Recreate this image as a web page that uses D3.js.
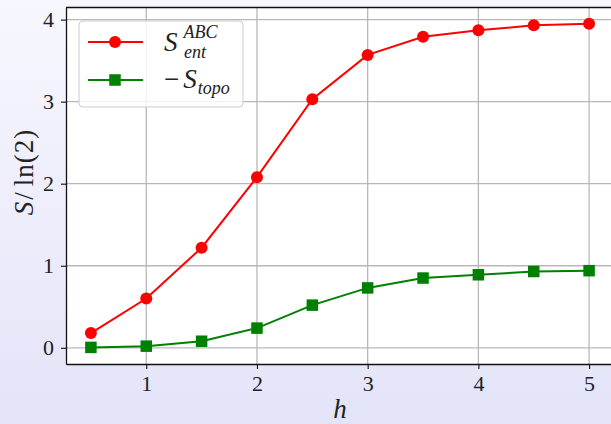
<!DOCTYPE html>
<html>
<head>
<meta charset="utf-8">
<script src="https://cdn.jsdelivr.net/npm/d3@7"></script>
<style>
  html, body { margin: 0; padding: 0; }
  body { width: 611px; height: 424px; overflow: hidden; }
  svg { display: block; }
  text { font-family: "Liberation Serif", "DejaVu Serif", serif; fill: #222; }
</style>
</head>
<body>
<svg id="chart" width="611" height="424"></svg>
<script>
// Field strength h
const hValues = [0.5, 1, 1.5, 2, 2.5, 3, 3.5, 4, 4.5, 5];
// Entanglement entropy S_ent^ABC / ln(2)
const sEnt = [0.18, 0.60, 1.22, 2.08, 3.03, 3.57, 3.79, 3.87, 3.93, 3.95];
// Negative topological entropy -S_topo / ln(2)
const sTopo = [0.005, 0.02, 0.08, 0.24, 0.52, 0.73, 0.85, 0.89, 0.93, 0.94];
const xTicks = [1, 2, 3, 4, 5];
const yTicks = [0, 1, 2, 3, 4];

const W = 611, H = 424;
const plot = { left: 66, top: 7.5, right: 614, bottom: 364 };
const serif = '"Liberation Serif", "DejaVu Serif", serif';

const svg = d3.select("#chart");
const defs = svg.append("defs");

// figure background: pale lavender, lighter towards the top
const grad = defs.append("linearGradient")
  .attr("id", "bg").attr("x1", 0).attr("y1", 0).attr("x2", 0).attr("y2", 1);
grad.append("stop").attr("offset", "0%").attr("stop-color", "#f7f7fe");
grad.append("stop").attr("offset", "100%").attr("stop-color", "#e4e4f9");
svg.append("rect").attr("width", W).attr("height", H).attr("fill", "url(#bg)");

// scales with 5% padding on both axes
const pad = (lo, hi) => { const s = hi - lo; return [lo - 0.05 * s, hi + 0.05 * s]; };
const xExt = d3.extent(hValues);
const yExt = d3.extent(sEnt.concat(sTopo).concat([0]));
const x = d3.scaleLinear().domain(pad(xExt[0], xExt[1])).range([plot.left, plot.right]);
const y = d3.scaleLinear().domain(pad(yExt[0], yExt[1])).range([plot.bottom, plot.top]);

// plot area
svg.append("rect")
  .attr("x", plot.left).attr("y", plot.top)
  .attr("width", plot.right - plot.left).attr("height", plot.bottom - plot.top)
  .attr("fill", "#ffffff");

defs.append("clipPath").attr("id", "clip")
  .append("rect")
  .attr("x", plot.left).attr("y", plot.top)
  .attr("width", plot.right - plot.left).attr("height", plot.bottom - plot.top);

// grid
const grid = svg.append("g").attr("clip-path", "url(#clip)");
grid.selectAll(".gx").data(xTicks).join("line")
  .attr("x1", d => x(d)).attr("x2", d => x(d))
  .attr("y1", plot.top).attr("y2", plot.bottom)
  .attr("stroke", "#b8b8b8").attr("stroke-width", 1.3);
grid.selectAll(".gy").data(yTicks).join("line")
  .attr("x1", plot.left).attr("x2", plot.right)
  .attr("y1", d => y(d)).attr("y2", d => y(d))
  .attr("stroke", "#b8b8b8").attr("stroke-width", 1.3);

// series
const series = [
  { values: sEnt, color: "#ff0000", marker: "circle" },
  { values: sTopo, color: "#008000", marker: "square" }
];
const line = d3.line().x(d => x(d[0])).y(d => y(d[1]));
const gData = svg.append("g").attr("clip-path", "url(#clip)");
series.forEach(s => {
  const pts = hValues.map((h, i) => [h, s.values[i]]);
  gData.append("path").datum(pts)
    .attr("d", line).attr("fill", "none")
    .attr("stroke", s.color).attr("stroke-width", 2);
  if (s.marker === "circle") {
    gData.selectAll(null).data(pts).join("circle")
      .attr("cx", d => x(d[0])).attr("cy", d => y(d[1])).attr("r", 6)
      .attr("fill", s.color);
  } else {
    gData.selectAll(null).data(pts).join("rect")
      .attr("x", d => x(d[0]) - 5.75).attr("y", d => y(d[1]) - 5.75)
      .attr("width", 11.5).attr("height", 11.5)
      .attr("fill", s.color);
  }
});

// axes
const xAxis = d3.axisBottom(x).tickValues(xTicks).tickSize(5).tickSizeOuter(0)
  .tickPadding(6).tickFormat(d3.format("d"));
const yAxis = d3.axisLeft(y).tickValues(yTicks).tickSize(5).tickSizeOuter(0)
  .tickPadding(7).tickFormat(d3.format("d"));

const gx = svg.append("g").attr("transform", `translate(0,${plot.bottom})`).call(xAxis);
const gy = svg.append("g").attr("transform", `translate(${plot.left},0)`).call(yAxis);
[gx, gy].forEach(g => {
  g.attr("font-family", null);
  g.select(".domain").attr("stroke", "#111").attr("stroke-width", 1.3);
  g.selectAll(".tick line").attr("stroke", "#111").attr("stroke-width", 1.1);
  g.selectAll(".tick text")
    .style("font-family", serif)
    .style("font-size", "22px").attr("fill", "#222");
});
// top spine
svg.append("line")
  .attr("x1", plot.left).attr("x2", plot.right)
  .attr("y1", plot.top).attr("y2", plot.top)
  .attr("stroke", "#111").attr("stroke-width", 1.3);

// axis titles
svg.append("text")
  .attr("x", 340).attr("y", 418)
  .attr("text-anchor", "middle")
  .style("font-size", "27px").style("font-style", "italic")
  .text("h");

const yt = svg.append("text")
  .attr("transform", "translate(33,172) rotate(-90)")
  .attr("text-anchor", "middle")
  .style("font-size", "27px");
yt.append("tspan").style("font-style", "italic").text("S");
yt.append("tspan").attr("dx", 2).text("/");
yt.append("tspan").attr("dx", 6).attr("letter-spacing", 1).text("ln(2)");

// legend
const lg = svg.append("g").attr("transform", "translate(79,21)");
lg.append("rect")
  .attr("width", 164).attr("height", 86).attr("rx", 4)
  .attr("fill", "#ffffff").attr("fill-opacity", 0.8)
  .attr("stroke", "#cccccc").attr("stroke-width", 1);

const entries = [
  { s: series[0], yOff: 21 },
  { s: series[1], yOff: 59 }
];
entries.forEach(e => {
  lg.append("line")
    .attr("x1", 9).attr("x2", 64).attr("y1", e.yOff).attr("y2", e.yOff)
    .attr("stroke", e.s.color).attr("stroke-width", 2);
  if (e.s.marker === "circle") {
    lg.append("circle").attr("cx", 36).attr("cy", e.yOff).attr("r", 6).attr("fill", e.s.color);
  } else {
    lg.append("rect").attr("x", 30.25).attr("y", e.yOff - 5.75)
      .attr("width", 11.5).attr("height", 11.5).attr("fill", e.s.color);
  }
});

// S_ent^ABC
const t1 = lg.append("text").attr("x", 85).attr("y", 30).style("font-size", "27px");
t1.append("tspan").style("font-style", "italic").text("S");
t1.append("tspan").style("font-style", "italic").style("font-size", "18px")
  .attr("dx", 6).attr("dy", -13).text("ABC");
lg.append("text").attr("x", 105).attr("y", 37)
  .style("font-size", "18px").style("font-style", "italic").text("ent");

// -S_topo
const t2 = lg.append("text").attr("x", 85).attr("y", 67).style("font-size", "27px");
t2.append("tspan").text("\u2212");
t2.append("tspan").style("font-style", "italic").attr("dx", 4).text("S");
t2.append("tspan").style("font-style", "italic").style("font-size", "18px")
  .attr("dx", 1).attr("dy", 6).text("topo");
</script>
</body>
</html>
